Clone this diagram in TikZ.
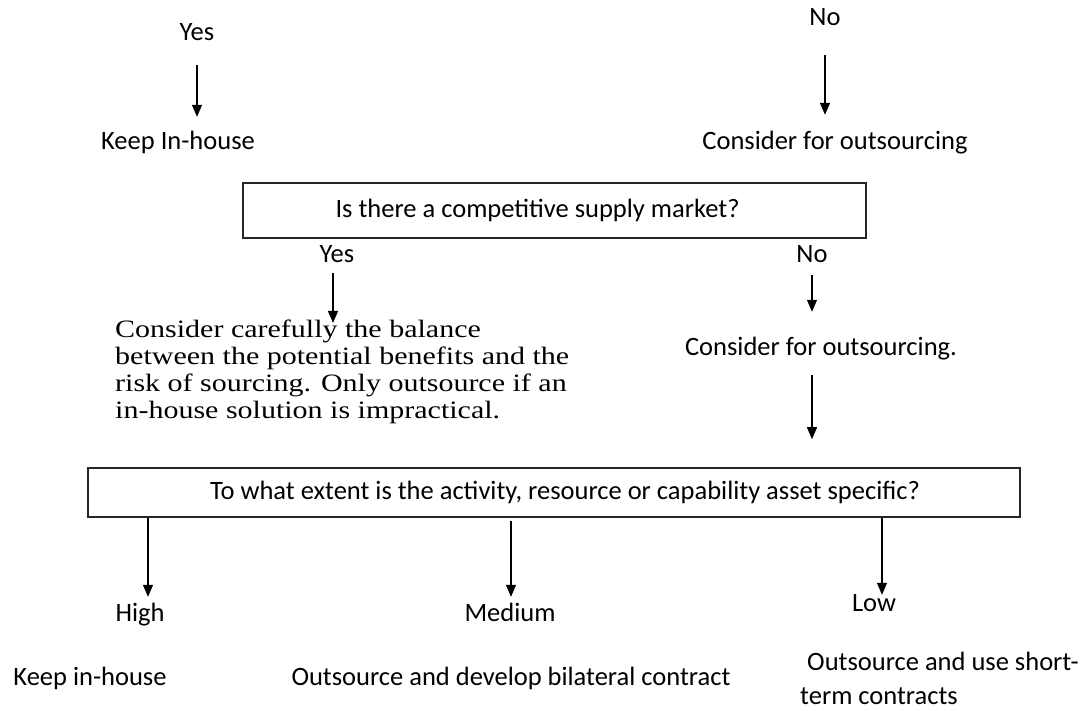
\documentclass[tikz,border=0pt]{standalone}
\usepackage{fontspec}
\setmainfont{Carlito}
\newfontfamily\advfont[FakeStretch=1.2]{Liberation Serif}
\usetikzlibrary{arrows.meta, positioning, calc}

\begin{document}
\begin{tikzpicture}[x=1pt, y=-1pt,
      lbl/.style={inner sep=2pt, text height=20pt, text depth=4pt,
                  font=\fontsize{26.5}{32}\selectfont},
      qbox/.style={draw=black!85, line width=1.6pt, inner sep=0pt,
                   font=\fontsize{26.5}{32}\selectfont},
      arr/.style={-{Triangle[length=12pt,width=10pt]}, line width=1.3pt}]
    \useasboundingbox (0,0) rectangle (1085,711);
    % top answers
    \node[lbl] (yes1)  at (197,33)  {Yes};
    \node[lbl] (keep1) at (178,142) {Keep In-house};
    \node[lbl] (no1)   at (825,18)  {No};
    \node[lbl] (cons1) at (835,142) {Consider for outsourcing};
    \draw[arr, shorten <=18pt, shorten >=11pt] (yes1.south) -- (yes1.south |- keep1.north);
    \draw[arr, shorten <=23pt, shorten >=13pt] (no1.south) -- (no1.south |- cons1.north);
    % supply market question
    \node[qbox, minimum width=623pt, minimum height=55pt] (mkt) at (554.5,210.5)
         {\hspace*{-34pt}Is there a competitive supply market?};
    \node[lbl] (yes2) at (337,255) {Yes};
    \node[lbl] (no2)  at (812,255) {No};
    \node[anchor=north west, inner sep=0pt, align=left,
          font=\advfont\fontsize{25}{27}\selectfont] (adv) at (115,320)
         {Consider carefully the balance\\
          between the potential benefits and the\\
          risk of sourcing. Only outsource if an\\
          in-house solution is impractical.};
    \node[lbl] (cons2) at (821,348) {Consider for outsourcing.};
    \draw[arr, shorten <=4pt, shorten >=-3pt] ([xshift=-4pt]yes2.south) -- ([xshift=-4pt]yes2.south |- adv.north);
    \draw[arr, shorten <=6pt, shorten >=22pt] (no2.south) -- (no2.south |- cons2.north);
    % asset specificity question
    \node[qbox, minimum width=932pt, minimum height=49pt] (spec) at (554,492.5)
         {\hspace*{22pt}To what extent is the activity, resource or capability asset specific?};
    \draw[arr, shorten <=13pt, shorten >=28pt] ([xshift=-9pt]cons2.south) -- ([xshift=-9pt]cons2.south |- spec.north);
    \node[lbl] (hi)  at (140,613) {High};
    \node[lbl] (med) at (510,613) {Medium};
    \node[lbl] (lo)  at (874,603) {Low};
    \draw[arr, shorten >=2pt] ([xshift=8pt]hi.north |- spec.south) -- ([xshift=8pt]hi.north);
    \draw[arr, shorten <=3pt, shorten >=2pt] ([xshift=1pt]med.north |- spec.south) -- ([xshift=1pt]med.north);
    \draw[arr, shorten >=-6pt] ([xshift=8pt]lo.north |- spec.south) -- ([xshift=8pt]lo.north);
    % outcomes
    \node[lbl] (keep2) at (90,677)  {Keep in-house};
    \node[lbl] (bilat) at (511,677) {Outsource and develop bilateral contract};
    \node[anchor=north west, inner sep=0pt, align=left,
          font=\fontsize{26.5}{34}\selectfont] (short) at (800,652)
         {\hspace*{7pt}Outsource and use short-\\term contracts};
\end{tikzpicture}
\end{document}
